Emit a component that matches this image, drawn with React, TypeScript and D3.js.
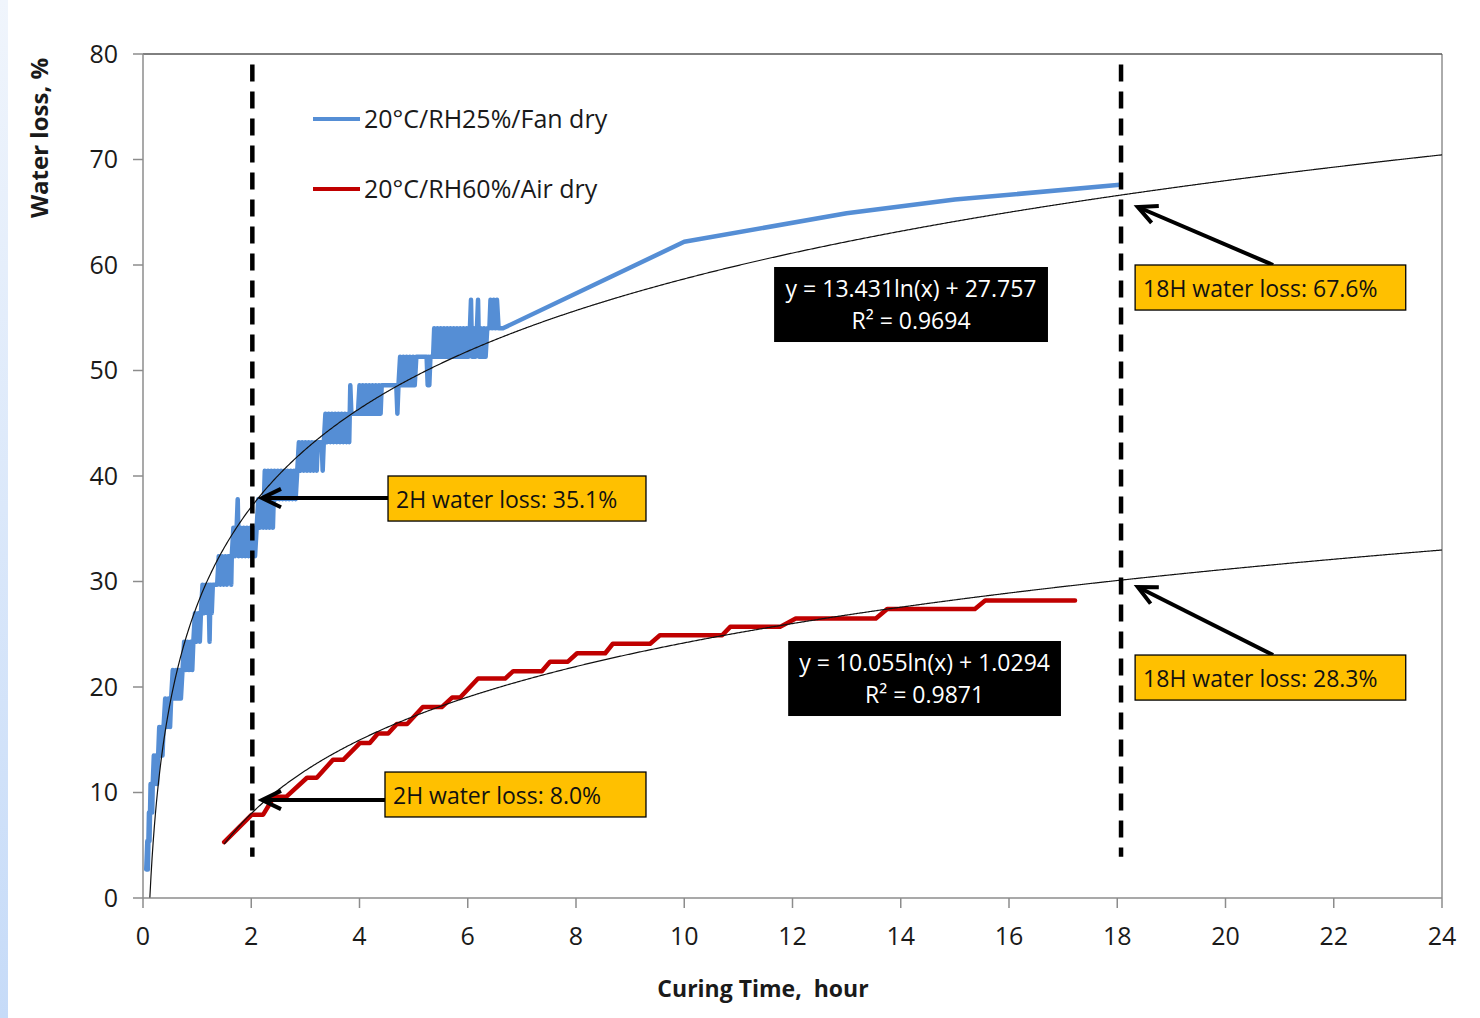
import React, { useEffect, useRef } from 'react';
import * as d3 from 'd3';

const xTicks = [0, 2, 4, 6, 8, 10, 12, 14, 16, 18, 20, 22, 24];
const yTicks = [0, 10, 20, 30, 40, 50, 60, 70, 80];
const seriesNames = ['20°C/RH25%/Fan dry', '20°C/RH60%/Air dry'];
const seriesColors = ['#558ed5', '#c00000'];

// fan dry: raw balance readings (hour, %), oscillating between 2.7% steps
const fanDry: [number, number][] = [
  [0.06, 2.7], [0.08, 5.4], [0.09, 2.7], [0.10, 5.4], [0.11, 8.1], [0.12, 5.4], [0.13, 8.1],
  [0.14, 10.8], [0.15, 8.1], [0.16, 10.8], [0.17, 8.1], [0.18, 10.8],
  [0.20, 13.5], [0.22, 10.8], [0.24, 13.5], [0.26, 10.8], [0.28, 13.5],
  [0.30, 16.2], [0.32, 13.5], [0.34, 16.2], [0.36, 13.5], [0.38, 16.2],
  [0.41, 18.9], [0.44, 16.2], [0.47, 18.9], [0.50, 16.2], [0.52, 18.9],
  [0.55, 21.6], [0.58, 18.9], [0.61, 21.6], [0.64, 18.9], [0.67, 21.6], [0.70, 18.9], [0.73, 21.6],
  [0.76, 24.3], [0.79, 21.6], [0.82, 24.3], [0.85, 21.6], [0.88, 24.3], [0.91, 21.6], [0.93, 24.3],
  [0.96, 27.0], [0.99, 24.3], [1.02, 27.0], [1.05, 24.3], [1.07, 27.0],
  [1.10, 29.7], [1.13, 27.0], [1.16, 29.7], [1.19, 27.0], [1.21, 29.7], [1.23, 24.3], [1.25, 29.7],
  [1.27, 27.0], [1.29, 29.7], [1.37, 29.7],
  [1.40, 32.4], [1.43, 29.7], [1.46, 32.4], [1.49, 29.7], [1.52, 32.4], [1.55, 29.7], [1.57, 32.4],
  [1.62, 32.4], [1.63, 29.7], [1.64, 32.4],
  [1.67, 35.1], [1.70, 32.4], [1.73, 35.1], [1.75, 37.8], [1.77, 32.4], [1.80, 35.1], [1.83, 32.4],
  [1.86, 35.1], [1.89, 32.4], [1.92, 35.1], [1.95, 32.4], [1.98, 35.1], [2.01, 32.4], [2.04, 35.1],
  [2.07, 32.4], [2.10, 35.1],
  [2.13, 37.8], [2.16, 35.1], [2.19, 37.8], [2.22, 35.1],
  [2.25, 40.5], [2.28, 35.1], [2.31, 40.5], [2.34, 35.1], [2.37, 40.5], [2.40, 35.1], [2.43, 40.5], [2.46, 37.8],
  [2.49, 40.5], [2.52, 37.8], [2.55, 40.5], [2.58, 37.8], [2.61, 40.5], [2.64, 37.8], [2.67, 40.5],
  [2.70, 37.8], [2.73, 40.5], [2.76, 37.8], [2.79, 40.5], [2.82, 37.8], [2.85, 40.5],
  [2.88, 43.2], [2.91, 40.5], [2.94, 43.2], [2.97, 40.5], [3.00, 43.2], [3.03, 40.5], [3.06, 43.2],
  [3.09, 40.5], [3.12, 43.2], [3.15, 40.5], [3.18, 43.2], [3.21, 40.5], [3.23, 43.2],
  [3.30, 43.2], [3.32, 40.5], [3.34, 43.2],
  [3.37, 45.9], [3.40, 43.2], [3.43, 45.9], [3.46, 43.2], [3.49, 45.9], [3.52, 43.2], [3.55, 45.9],
  [3.58, 43.2], [3.61, 45.9], [3.64, 43.2], [3.67, 45.9], [3.70, 43.2], [3.73, 45.9], [3.76, 43.2],
  [3.79, 45.9], [3.81, 43.2], [3.83, 48.6], [3.85, 45.9], [3.97, 45.9],
  [4.00, 48.6], [4.03, 45.9], [4.06, 48.6], [4.09, 45.9], [4.12, 48.6], [4.15, 45.9], [4.18, 48.6],
  [4.21, 45.9], [4.24, 48.6], [4.27, 45.9], [4.30, 48.6], [4.33, 45.9], [4.36, 48.6], [4.39, 45.9],
  [4.41, 48.6], [4.68, 48.6], [4.70, 45.9], [4.72, 48.6],
  [4.75, 51.3], [4.78, 48.6], [4.81, 51.3], [4.84, 48.6], [4.87, 51.3], [4.90, 48.6], [4.93, 51.3],
  [4.96, 48.6], [4.99, 51.3], [5.02, 48.6], [5.05, 51.3],
  [5.24, 51.3], [5.26, 48.6], [5.28, 51.3], [5.29, 48.6], [5.31, 51.3], [5.36, 51.3],
  [5.38, 54.0], [5.41, 51.3], [5.44, 54.0], [5.47, 51.3], [5.50, 54.0], [5.53, 51.3], [5.56, 54.0],
  [5.59, 51.3], [5.62, 54.0], [5.65, 51.3], [5.68, 54.0], [5.71, 51.3], [5.74, 54.0], [5.77, 51.3],
  [5.80, 54.0], [5.83, 51.3], [5.86, 54.0], [5.89, 51.3], [5.92, 54.0], [5.95, 51.3], [5.98, 54.0],
  [6.01, 51.3], [6.04, 54.0], [6.06, 56.7], [6.08, 51.3], [6.11, 54.0], [6.14, 51.3], [6.17, 54.0],
  [6.19, 56.7], [6.21, 51.3], [6.24, 54.0], [6.27, 51.3], [6.30, 54.0], [6.33, 51.3], [6.36, 54.0],
  [6.40, 54.0], [6.42, 56.7], [6.45, 54.0], [6.48, 56.7], [6.51, 54.0], [6.54, 56.7], [6.57, 54.0],
  [6.65, 54.0], [10, 62.2], [13, 64.9], [15, 66.2], [18.05, 67.6],
];

const airDry: [number, number][] = [
  [1.50, 5.3], [2.01, 7.9], [2.22, 7.9], [2.42, 9.6], [2.65, 9.6], [3.03, 11.4], [3.21, 11.4],
  [3.51, 13.1], [3.70, 13.1], [4.01, 14.7], [4.19, 14.7], [4.34, 15.6], [4.53, 15.6], [4.69, 16.5],
  [4.88, 16.5], [5.17, 18.1], [5.52, 18.1], [5.71, 19.0], [5.86, 19.0], [6.19, 20.8], [6.69, 20.8],
  [6.84, 21.5], [7.37, 21.5], [7.52, 22.4], [7.85, 22.4], [8.02, 23.2], [8.54, 23.2], [8.68, 24.1],
  [9.37, 24.1], [9.55, 24.9], [10.70, 24.9], [10.85, 25.7], [11.77, 25.7], [12.06, 26.5],
  [13.54, 26.5], [13.75, 27.4], [15.37, 27.4], [15.56, 28.2], [17.22, 28.2],
];

// log fits y = a ln(x) + b
const fitA = [13.431, 10.055];
const fitB = [27.757, 1.0294];
const fitStart = [0.127, 1.5];
const fitText = [
  ['y = 13.431ln(x) + 27.757', 'R² = 0.9694'],
  ['y = 10.055ln(x) + 1.0294', 'R² = 0.9871'],
];

const markerHours = [2.02, 18.07];
const calloutText = ['2H water loss: 35.1%', '2H water loss: 8.0%', '18H water loss: 67.6%', '18H water loss: 28.3%'];

const FONT = "'Open Sans', sans-serif";

const App = () => {
  const svgRef = useRef<SVGSVGElement | null>(null);

  useEffect(() => {
    document.body.style.margin = '0';
    document.body.style.overflow = 'hidden';
    const svg = d3.select(svgRef.current);
    svg.selectAll('*').remove();

    const x = d3.scaleLinear().domain([0, 24]).range([143, 1442]);
    const y = d3.scaleLinear().domain([0, 80]).range([898, 54]);

    // page background + left blue strip
    const grad = svg.append('defs').append('linearGradient')
      .attr('id', 'strip').attr('x1', 0).attr('y1', 0).attr('x2', 0).attr('y2', 1);
    grad.append('stop').attr('offset', '0%').attr('stop-color', '#f0f5fc');
    grad.append('stop').attr('offset', '100%').attr('stop-color', '#c6dbf8');
    svg.append('rect').attr('width', 1480).attr('height', 1018).attr('fill', '#fff');
    svg.append('rect').attr('width', 8).attr('height', 1018).attr('fill', 'url(#strip)');

    // frame
    svg.append('line').attr('x1', x(0)).attr('x2', x(24)).attr('y1', y(80)).attr('y2', y(80))
      .attr('stroke', '#000').attr('stroke-width', 1);
    svg.append('line').attr('x1', x(24)).attr('x2', x(24)).attr('y1', y(80)).attr('y2', y(0))
      .attr('stroke', '#595959').attr('stroke-width', 1);

    const axisColor = '#8c8c8c';
    svg.append('line').attr('x1', x(0)).attr('x2', x(0)).attr('y1', y(80)).attr('y2', y(0))
      .attr('stroke', axisColor).attr('stroke-width', 1.5);
    svg.append('line').attr('x1', x(0)).attr('x2', x(24)).attr('y1', y(0)).attr('y2', y(0))
      .attr('stroke', axisColor).attr('stroke-width', 1.5);

    svg.selectAll('.ytick').data(yTicks).enter().append('line')
      .attr('x1', x(0) - 10).attr('x2', x(0)).attr('y1', d => y(d)).attr('y2', d => y(d))
      .attr('stroke', axisColor).attr('stroke-width', 1.5);
    svg.selectAll('.ylab').data(yTicks).enter().append('text')
      .attr('x', 118).attr('y', d => y(d)).attr('dy', '0.35em')
      .attr('text-anchor', 'end').attr('font-family', FONT).attr('font-size', 25).attr('fill', '#1a1a1a')
      .text(d => d);

    svg.selectAll('.xtick').data(xTicks).enter().append('line')
      .attr('x1', d => x(d)).attr('x2', d => x(d)).attr('y1', y(0)).attr('y2', y(0) + 10)
      .attr('stroke', axisColor).attr('stroke-width', 1.5);
    svg.selectAll('.xlab').data(xTicks).enter().append('text')
      .attr('x', d => x(d)).attr('y', 936).attr('dy', '0.35em')
      .attr('text-anchor', 'middle').attr('font-family', FONT).attr('font-size', 25).attr('fill', '#1a1a1a')
      .text(d => d);

    svg.append('text').attr('x', 763).attr('y', 997).attr('text-anchor', 'middle')
      .attr('font-family', FONT).attr('font-size', 23).attr('font-weight', 'bold')
      .style('white-space', 'pre').attr('fill', '#1a1a1a').text('Curing Time,  hour');
    svg.append('text').attr('transform', 'translate(48,138) rotate(-90)').attr('text-anchor', 'middle')
      .attr('font-family', FONT).attr('font-size', 24).attr('font-weight', 'bold')
      .attr('fill', '#1a1a1a').text('Water loss, %');

    // data lines
    const line = d3.line<[number, number]>().x(d => x(d[0])).y(d => y(d[1]));
    [fanDry, airDry].forEach((data, i) => {
      svg.append('path').datum(data).attr('d', line).attr('fill', 'none')
        .attr('stroke', seriesColors[i]).attr('stroke-width', 4.5)
        .attr('stroke-linejoin', 'round').attr('stroke-linecap', 'round');
    });

    // trend lines
    fitA.forEach((a, i) => {
      const pts: [number, number][] = d3.range(fitStart[i], 24.001, 0.02)
        .map(t => [t, a * Math.log(t) + fitB[i]] as [number, number]);
      pts.push([24, a * Math.log(24) + fitB[i]]);
      svg.append('path').datum(pts).attr('d', line).attr('fill', 'none')
        .attr('stroke', '#111').attr('stroke-width', 1.2);
    });

    // vertical markers at 2H and 18H
    svg.selectAll('.marker').data(markerHours).enter().append('line')
      .attr('x1', d => x(d)).attr('x2', d => x(d)).attr('y1', y(79)).attr('y2', y(3.9))
      .attr('stroke', '#000').attr('stroke-width', 4.5).attr('stroke-dasharray', '17,10');

    // legend
    seriesNames.forEach((name, i) => {
      const ly = 119 + i * 70;
      svg.append('line').attr('x1', 313).attr('x2', 360).attr('y1', ly).attr('y2', ly)
        .attr('stroke', seriesColors[i]).attr('stroke-width', 4);
      svg.append('text').attr('x', 364).attr('y', ly).attr('dy', '0.35em')
        .attr('font-family', FONT).attr('font-size', 25).attr('fill', '#1a1a1a').text(name);
    });

    // equation boxes
    const eqBoxes = [
      { x0: 11.66, x1: 16.72, top: 59.81, bottom: 52.7 },
      { x0: 11.92, x1: 16.96, top: 24.36, bottom: 17.25 },
    ];
    eqBoxes.forEach((b, i) => {
      const bx = x(b.x0), bw = x(b.x1) - x(b.x0), by = y(b.top), bh = y(b.bottom) - y(b.top);
      svg.append('rect').attr('x', bx).attr('y', by).attr('width', bw).attr('height', bh)
        .attr('fill', '#000');
      fitText[i].forEach((s, k) => {
        svg.append('text').attr('x', bx + bw / 2).attr('y', by + 22 + k * 32).attr('dy', '0.35em')
          .attr('text-anchor', 'middle').attr('font-family', FONT).attr('font-size', 23)
          .attr('fill', '#fff').text(s);
      });
    });

    // callouts with arrows
    const callouts = [
      { x0: 4.527, x1: 9.293, top: 40.0, bottom: 35.73, from: [4.527, 37.91], tip: [2.2, 37.91] },
      { x0: 4.471, x1: 9.293, top: 11.94, bottom: 7.68, from: [4.471, 9.29], tip: [2.2, 9.29] },
      { x0: 18.33, x1: 23.33, top: 60.0, bottom: 55.73, from: [20.88, 60.0], tip: [18.38, 65.5] },
      { x0: 18.33, x1: 23.33, top: 23.03, bottom: 18.76, from: [20.88, 23.03], tip: [18.38, 29.48] },
    ];
    callouts.forEach((c, i) => {
      const fx = x(c.from[0]), fy = y(c.from[1]), tx = x(c.tip[0]), ty = y(c.tip[1]);
      const ang = Math.atan2(fy - ty, fx - tx);
      const len = 21, spread = 0.45;
      svg.append('line').attr('x1', fx).attr('y1', fy).attr('x2', tx).attr('y2', ty)
        .attr('stroke', '#000').attr('stroke-width', 4);
      svg.append('path')
        .attr('d', `M${tx + len * Math.cos(ang + spread)},${ty + len * Math.sin(ang + spread)}L${tx},${ty}L${tx + len * Math.cos(ang - spread)},${ty + len * Math.sin(ang - spread)}`)
        .attr('fill', 'none').attr('stroke', '#000').attr('stroke-width', 4).attr('stroke-linejoin', 'miter');
      const bx = x(c.x0), bw = x(c.x1) - x(c.x0), by = y(c.top), bh = y(c.bottom) - y(c.top);
      svg.append('rect').attr('x', bx).attr('y', by).attr('width', bw).attr('height', bh)
        .attr('fill', '#ffc000').attr('stroke', '#000').attr('stroke-width', 1.3);
      svg.append('text').attr('x', bx + 8).attr('y', by + bh / 2 + 1).attr('dy', '0.35em')
        .attr('font-family', FONT).attr('font-size', 23).attr('fill', '#111').text(calloutText[i]);
    });
  }, []);

  return (
    <svg ref={svgRef} width={1480} height={1018}
      style={{ position: 'absolute', left: 0, top: 0, display: 'block' }}></svg>
  );
};

export default App;
